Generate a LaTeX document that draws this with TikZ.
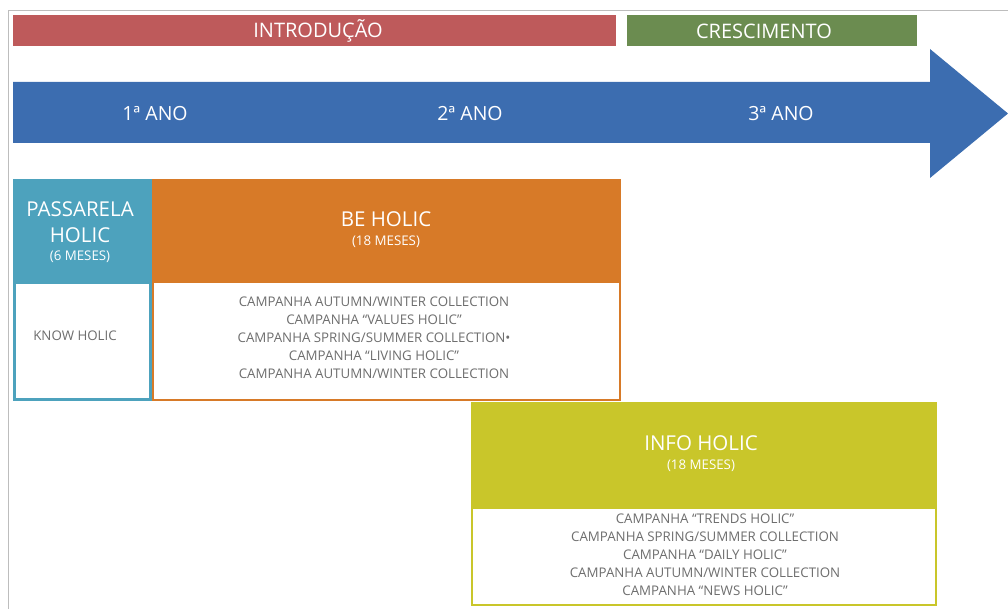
\documentclass[tikz,border=0pt]{standalone}
\usepackage{fontspec}
\setmainfont{Open Sans}
\definecolor{introred}{HTML}{BE5A5B}
\definecolor{growgreen}{HTML}{6B8C50}
\definecolor{timeblue}{HTML}{3C6DB0}
\definecolor{passteal}{HTML}{4DA2BD}
\definecolor{beorange}{HTML}{D77A28}
\definecolor{infoolive}{HTML}{C9C62A}
\definecolor{bodygray}{HTML}{6E6E6E}
\definecolor{framegray}{HTML}{BDBDBD}
\newcommand{\subnote}{\fontsize{13.3}{15}\selectfont}
\begin{document}
\begin{tikzpicture}[x=1pt,y=-1pt,
  phasebar/.style={rectangle, anchor=north west, inner sep=0pt},
  barlabel/.style={text=white, font=\fontsize{20}{24}\selectfont},
  yearlabel/.style={text=white, font=\fontsize{19.5}{24}\selectfont},
  headbox/.style={rectangle, anchor=north west, inner sep=0pt},
  headtext/.style={text=white, align=center, font=\fontsize{20.5}{26}\selectfont},
  bodybox/.style={rectangle, anchor=north west, inner sep=0pt, fill=white},
  bodytext/.style={text=bodygray, align=center, font=\fontsize{13.3}{18}\selectfont}
]
\useasboundingbox (0,0) rectangle (1008,609);

% page frame
\draw[framegray, line width=1pt] (8,609) -- (8,11) -- (1008,11);

% phase bars
\node[phasebar, fill=introred, minimum width=603pt, minimum height=31pt] (intro) at (13,15) {};
\node[barlabel] (introtxt) at (318,31) {INTRODUÇÃO};
\node[phasebar, fill=growgreen, minimum width=290pt, minimum height=31pt] (growth) at (627,15) {};
\node[barlabel] (growthtxt) at (764,31) {CRESCIMENTO};

% timeline arrow
\fill[timeblue] (13,82) -- (930,82) -- (930,49) -- (1008,113.5) -- (930,178)
  -- (930,143) -- (13,143) -- cycle;
\node[yearlabel] (y1) at (155,113.5) {1ª ANO};
\node[yearlabel] (y2) at (470,113.5) {2ª ANO};
\node[yearlabel] (y3) at (781,113.5) {3ª ANO};

% Passarela Holic (border drawn inside the column)
\node[bodybox, draw=passteal, line width=3pt, minimum width=136pt, minimum height=117pt] (passbody) at (13,281) {};
\node[bodytext] (passtxt) at (75,335.5) {KNOW HOLIC};
\node[headbox, fill=passteal, minimum width=139pt, minimum height=102pt] (passhead) at (13,179) {};
\node[headtext] (passtitle) at (80,232.5) {PASSARELA\\HOLIC\\[-8pt]\subnote (6 MESES)};

% Be Holic
\node[bodybox, draw=beorange, line width=2pt, minimum width=467pt, minimum height=118pt] (bebody) at (152,281) {};
\node[bodytext] (betxt) at (374,337.5)
  {CAMPANHA AUTUMN/WINTER COLLECTION\\
   CAMPANHA “VALUES HOLIC”\\
   CAMPANHA SPRING/SUMMER COLLECTION•\\
   CAMPANHA “LIVING HOLIC”\\
   CAMPANHA AUTUMN/WINTER COLLECTION};
\node[headbox, fill=beorange, minimum width=469pt, minimum height=102pt] (behead) at (152,179) {};
\node[headtext] (betitle) at (386,230) {BE HOLIC\\[-7pt]\subnote (18 MESES)};

% Info Holic
\node[bodybox, draw=infoolive, line width=2pt, minimum width=464pt, minimum height=97pt] (infobody) at (471,507) {};
\node[bodytext] (infotxt) at (705,554.5)
  {CAMPANHA “TRENDS HOLIC”\\
   CAMPANHA SPRING/SUMMER COLLECTION\\
   CAMPANHA “DAILY HOLIC”\\
   CAMPANHA AUTUMN/WINTER COLLECTION\\
   CAMPANHA “NEWS HOLIC”};
\node[headbox, fill=infoolive, minimum width=466pt, minimum height=105pt] (infohead) at (471,402) {};
\node[headtext] (infotitle) at (701,454) {INFO HOLIC\\[-7pt]\subnote (18 MESES)};
\end{tikzpicture}
\end{document}
